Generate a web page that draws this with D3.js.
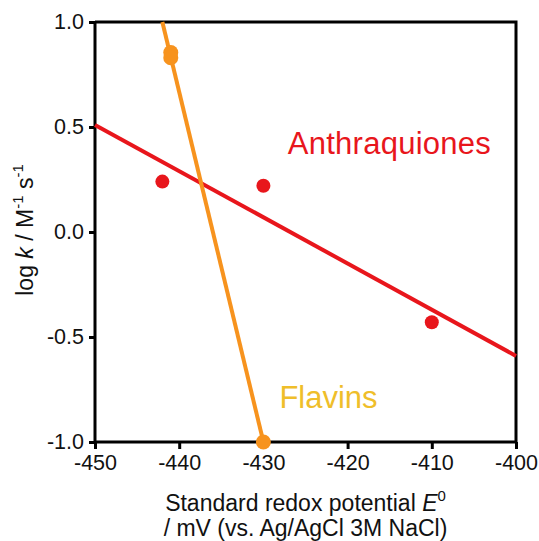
<!DOCTYPE html>
<html>
<head>
<meta charset="utf-8">
<script src="https://cdn.jsdelivr.net/npm/d3@7"></script>
<style>
  body { margin: 0; background: #fff; }
  svg { display: block; font-family: Arial, "Liberation Sans", sans-serif; }
</style>
</head>
<body>
<div id="output"></div>
<script>
// data
const anthraX = [-442, -430, -410];
const anthraY = [0.24, 0.22, -0.43];
const anthraFit = [[-450, 0.51], [-400, -0.59]];

const flavinX = [-441, -441, -430];
const flavinY = [0.855, 0.83, -1.0];
const flavinFit = [[-442, 1.0], [-430, -1.0]];

const xTicks = [-450, -440, -430, -420, -410, -400];
const yTicks = [1.0, 0.5, 0.0, -0.5, -1.0];

const width = 539, height = 541;
const margin = {top: 22, right: 23, bottom: 99, left: 95};

const red = "#e8161c", orange = "#f7931e", gold = "#efbe2a";

const x = d3.scaleLinear().domain([-450, -400]).range([margin.left, width - margin.right]);
const y = d3.scaleLinear().domain([-1, 1]).range([height - margin.bottom, margin.top]);

const svg = d3.select("#output").append("svg")
    .attr("width", width)
    .attr("height", height);

// box: top and right edges
svg.append("path")
    .attr("fill", "none")
    .attr("stroke", "black")
    .attr("stroke-width", 3)
    .attr("d", `M${x(-450)},${y(1)}H${x(-400)}V${y(-1)}`);

const xAxis = svg.append("g")
    .attr("transform", `translate(0,${y(-1)})`)
    .call(d3.axisBottom(x).tickValues(xTicks).tickSize(7).tickPadding(6).tickFormat(d3.format("d")));

const yAxis = svg.append("g")
    .attr("transform", `translate(${x(-450)},0)`)
    .call(d3.axisLeft(y).tickValues(yTicks).tickSize(6).tickPadding(5).tickFormat(d3.format(".1f")));

for (const ax of [xAxis, yAxis]) {
    ax.select(".domain").attr("stroke-width", 3);
    ax.selectAll(".tick line").attr("stroke-width", 3);
    ax.selectAll(".tick text")
        .attr("font-size", 21.5)
        .attr("font-family", "Arial, 'Liberation Sans', sans-serif")
        .attr("fill", "#111")
        .text(function () { return d3.select(this).text().replace("−", "-"); });
}
xAxis.select(".domain").attr("d", `M${x(-450)},0H${x(-400)}`);
yAxis.select(".domain").attr("d", `M0,${y(1)}V${y(-1)}`);

// fit lines
const line = d3.line().x(d => x(d[0])).y(d => y(d[1]));

svg.append("path")
    .datum(anthraFit)
    .attr("fill", "none")
    .attr("stroke", red)
    .attr("stroke-width", 4)
    .attr("d", line);

svg.append("path")
    .datum(flavinFit)
    .attr("fill", "none")
    .attr("stroke", orange)
    .attr("stroke-width", 4)
    .attr("d", line);

// points
svg.append("g")
    .attr("fill", red)
    .selectAll("circle")
    .data(anthraX.map((d, i) => [d, anthraY[i]]))
    .join("circle")
    .attr("cx", d => x(d[0]))
    .attr("cy", d => y(d[1]))
    .attr("r", 7);

svg.append("g")
    .attr("fill", orange)
    .selectAll("circle")
    .data(flavinX.map((d, i) => [d, flavinY[i]]))
    .join("circle")
    .attr("cx", d => x(d[0]))
    .attr("cy", d => y(d[1]))
    .attr("r", 7.5);

// series labels
svg.append("text")
    .attr("x", x(-427.1))
    .attr("y", y(0.37))
    .attr("fill", red)
    .attr("font-size", 31)
    .attr("textLength", 203)
    .text("Anthraquiones");

svg.append("text")
    .attr("x", x(-428.1))
    .attr("y", y(-0.84))
    .attr("fill", gold)
    .attr("font-size", 31)
    .text("Flavins");

// axis titles
const xt = svg.append("text")
    .attr("text-anchor", "middle")
    .attr("font-size", 23)
    .attr("fill", "#111");
xt.append("tspan")
    .attr("x", x(-425))
    .attr("y", 511)
    .text("Standard redox potential ");
xt.append("tspan")
    .attr("font-style", "italic")
    .text("E");
xt.append("tspan")
    .attr("font-size", 15)
    .attr("dy", -10)
    .text("0");
xt.append("tspan")
    .attr("x", x(-425))
    .attr("y", 536)
    .text("/ mV (vs. Ag/AgCl 3M NaCl)");

const yt = svg.append("text")
    .attr("text-anchor", "middle")
    .attr("transform", `translate(33,${y(0) - 2}) rotate(-90)`)
    .attr("font-size", 23)
    .attr("fill", "#111");
yt.append("tspan").text("log ");
yt.append("tspan").attr("font-style", "italic").text("k");
yt.append("tspan").text(" / M");
yt.append("tspan").attr("font-size", 15).attr("dy", -10).text("-1");
yt.append("tspan").attr("dy", 10).text(" s");
yt.append("tspan").attr("font-size", 15).attr("dy", -10).text("-1");
</script>
</body>
</html>
